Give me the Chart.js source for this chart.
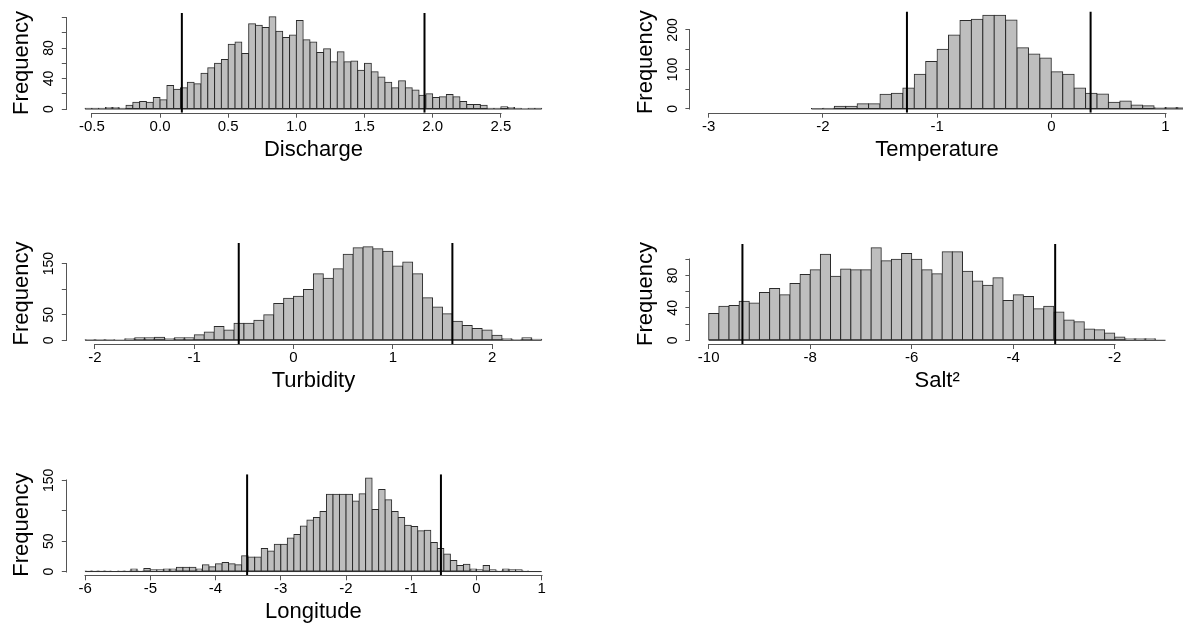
<!DOCTYPE html>
<html>
<head>
<meta charset="utf-8">
<title>Histograms</title>
<script src="https://cdn.jsdelivr.net/npm/chart.js@4.4.1/dist/chart.umd.min.js"></script>
<style>
  html, body { margin:0; padding:0; background:#fff; width:1183px; height:628px; overflow:hidden; position:relative; }
  canvas { position:absolute; display:block; }
</style>
</head>
<body>
<canvas id="discharge"></canvas>
<canvas id="temperature"></canvas>
<canvas id="turbidity"></canvas>
<canvas id="salt"></canvas>
<canvas id="longitude"></canvas>
<script>
// ---------------- data ----------------
const dischargeBinStart = -0.55;
const dischargeBinWidth = 0.05;
const dischargeCounts = [1,1,1,2,2,1,5,9,10,9,15,
  12,31,26,28,35,33,47,54,60,65,85,88,73,112,110,107,121,102,94,97,
  116,91,88,74,79,62,75,62,63,51,60,49,42,35,28,37,28,25,18,20,
  15,16,19,16,10,6,6,5,1,1,3,2,1,0,1,1];
const dischargeRange = [-0.55, 2.8];
const dischargeCutoffs = [0.16, 1.94];
const dischargeXTicks = [-0.5, 0, 0.5, 1, 1.5, 2, 2.5];
const dischargeXLabels = ['-0.5','0.0','0.5','1.0','1.5','2.0','2.5'];
const dischargeYTicks = [0, 20, 40, 60, 80, 100, 120];
const dischargeYLabels = ['0','','40','','80','',''];

const temperatureBinStart = -2.1;
const temperatureBinWidth = 0.1;
const temperatureCounts = [1,2,7,7,13,13,37,40,53,88,
  120,151,187,224,227,237,237,225,155,139,
  129,94,88,53,40,38,17,20,10,8,
  3,4,4];
const temperatureRange = [-3, 1];
const temperatureCutoffs = [-1.264, 0.344];
const temperatureXTicks = [-3, -2, -1, 0, 1];
const temperatureXLabels = ['-3','-2','-1','0','1'];
const temperatureYTicks = [0, 50, 100, 150, 200];
const temperatureYLabels = ['0','','100','','200'];

const turbidityBinStart = -2.1;
const turbidityBinWidth = 0.1;
const turbidityCounts = [1,1,1,0,3,5,5,6,3,5,5,11,16,27,20,33,33,39,50,72,82,
  86,99,130,121,140,168,181,183,179,174,145,153,130,83,65,52,37,29,23,20,10,3,1,5,2];
const turbidityRange = [-2.1, 2.5];
const turbidityCutoffs = [-0.552, 1.6];
const turbidityXTicks = [-2, -1, 0, 1, 2];
const turbidityXLabels = ['-2','-1','0','1','2'];
const turbidityYTicks = [0, 50, 100, 150];
const turbidityYLabels = ['0','50','','150'];

const saltBinStart = -10;
const saltBinWidth = 0.2;
const saltCounts = [33,42,43,48,46,59,64,56,70,81,
  87,106,79,88,87,87,114,98,100,107,
  100,87,82,109,109,85,73,68,77,49,
  56,54,39,42,35,25,23,14,13,9,
  4,2,2,2,0];
const saltRange = [-10, -1];
const saltCutoffs = [-9.335, -3.174];
const saltXTicks = [-10, -8, -6, -4, -2];
const saltXLabels = ['-10','-8','-6','-4','-2'];
const saltYTicks = [0, 20, 40, 60, 80, 100];
const saltYLabels = ['0','','40','','80',''];

const longitudeBinStart = -6;
const longitudeBinWidth = 0.1;
const longitudeCounts = [1,1,1,1,0,1,1,4,1,5,
  3,3,4,4,7,7,7,4,11,8,
  13,15,13,11,26,24,24,38,34,45,
  45,55,61,75,85,89,99,127,127,127,
  127,116,128,154,102,135,118,99,89,76,
  74,67,68,48,38,29,18,10,12,4,
  3,10,3,1,4,3,3,1,0,0];
const longitudeRange = [-6, 1];
const longitudeCutoffs = [-3.516, -0.545];
const longitudeXTicks = [-6, -5, -4, -3, -2, -1, 0, 1];
const longitudeXLabels = ['-6','-5','-4','-3','-2','-1','0','1'];
const longitudeYTicks = [0, 50, 100, 150];
const longitudeYLabels = ['0','50','','150'];

// ---------------- drawing ----------------
const FONT = "'Liberation Sans', Arial, sans-serif";
Chart.defaults.font.family = FONT;
Chart.defaults.color = '#000';
const AXIS = '#555';
const BAR_FILL = '#bebebe';
const BAR_EDGE = '#2b2b2b';
const CH = 180, AREA_H = 101.1, XAXIS_H = 50.2;
const Y_TICK_FONT = 14, X_TICK_FONT = 15, TITLE_FONT = 22;

const rAxisLines = {
  id: 'rAxisLines',
  afterDraw(chart) {
    const ctx = chart.ctx, a = chart.chartArea;
    const xs = chart.scales.x, ys = chart.scales.y;
    const xt = xs.ticks, yt = ys.ticks;
    ctx.save();
    ctx.strokeStyle = AXIS;
    ctx.lineWidth = 1;
    ctx.beginPath();
    const y = Math.round(a.bottom) + 0.5;
    ctx.moveTo(Math.round(xs.getPixelForValue(xt[0].value)) - 0.5, y);
    ctx.lineTo(Math.round(xs.getPixelForValue(xt[xt.length - 1].value)) + 0.5, y);
    const x = Math.round(a.left) - 0.5;
    ctx.moveTo(x, Math.round(ys.getPixelForValue(yt[0].value)) + 0.5);
    ctx.lineTo(x, Math.round(ys.getPixelForValue(yt[yt.length - 1].value)) - 0.5);
    ctx.stroke();
    ctx.restore();
  }
};

const measureCtx = document.createElement('canvas').getContext('2d');

function histogram(id, d, pos) {
  const canvas = document.getElementById(id);
  const W = pos.canvasWidth;
  canvas.width = W; canvas.height = CH;
  canvas.style.left = pos.canvasLeft + 'px';
  canvas.style.top = pos.canvasTop + 'px';
  canvas.style.width = W + 'px';
  canvas.style.height = CH + 'px';

  const padTop = pos.chartTop - pos.canvasTop;
  const yAxisW = pos.chartLeft - pos.canvasLeft;
  const padRight = pos.canvasLeft + W - pos.chartRight;
  const padBottom = CH - padTop - AREA_H - XAXIS_H;

  const n = d.counts.length;
  const binEnd = d.binStart + n * d.binWidth;
  const lo = d.range[0], hi = d.range[1];
  const ext = 0.04 * (hi - lo);
  const ymax = Math.max(...d.counts);
  const yMin = -0.04 * ymax, yMax = 1.04 * ymax;

  measureCtx.font = Y_TICK_FONT + 'px ' + FONT;
  const widest = Math.max(...d.yLabels.map(s => measureCtx.measureText(s).width));
  const yPad = Math.max(0, 12.5 - widest / 2);

  const datasets = [
    {
      type: 'bar',
      data: d.counts.map((c, i) => ({ x: d.binStart + (i + 0.5) * d.binWidth, y: c })),
      backgroundColor: BAR_FILL,
      borderColor: BAR_EDGE,
      borderWidth: 1,
      borderSkipped: false,
      inflateAmount: 0.5,
      barPercentage: 1,
      categoryPercentage: 1,
      order: 3,
      clip: 0
    },
    {
      type: 'line',
      data: [{ x: d.binStart, y: 0 }, { x: binEnd, y: 0 }],
      borderColor: BAR_EDGE,
      borderWidth: 1,
      pointRadius: 0,
      fill: false,
      order: 2,
      clip: 0
    }
  ];
  d.cutoffs.forEach(v => datasets.push({
    type: 'line',
    data: [{ x: v, y: yMin }, { x: v, y: yMax }],
    borderColor: '#000',
    borderWidth: 2,
    pointRadius: 0,
    fill: false,
    order: 1,
    clip: 0
  }));

  return new Chart(canvas, {
    type: 'bar',
    data: { datasets },
    plugins: [rAxisLines],
    options: {
      responsive: false,
      animation: false,
      events: [],
      layout: { padding: { left: 0, top: padTop, right: padRight, bottom: padBottom } },
      plugins: { legend: { display: false }, tooltip: { enabled: false } },
      scales: {
        x: {
          type: 'linear',
          min: lo - ext,
          max: hi + ext,
          offset: false,
          bounds: 'data',
          afterBuildTicks: s => { s.ticks = d.xTicks.map(v => ({ value: v })); },
          afterFit: s => { s.height = XAXIS_H; },
          ticks: {
            autoSkip: false, minRotation: 0, maxRotation: 0, padding: 0,
            font: { size: X_TICK_FONT }, color: '#000',
            callback: (v, i) => d.xLabels[i]
          },
          grid: { display: true, drawOnChartArea: false, drawTicks: true, tickLength: 5,
                  color: AXIS, tickColor: AXIS, tickWidth: 1, offset: false },
          border: { display: false },
          title: { display: true, text: d.xTitle, font: { size: TITLE_FONT }, color: '#000',
                   padding: { top: 0, bottom: 0 } }
        },
        y: {
          type: 'linear',
          min: yMin,
          max: yMax,
          bounds: 'data',
          afterBuildTicks: s => { s.ticks = d.yTicks.map(v => ({ value: v })); },
          afterFit: s => { s.width = yAxisW; },
          ticks: {
            autoSkip: false, minRotation: 90, maxRotation: 90, crossAlign: 'center',
            padding: yPad, font: { size: Y_TICK_FONT }, color: '#000',
            callback: (v, i) => d.yLabels[i]
          },
          grid: { display: true, drawOnChartArea: false, drawTicks: true, tickLength: 5,
                  color: AXIS, tickColor: AXIS, tickWidth: 1 },
          border: { display: false },
          title: { display: true, text: 'Frequency', font: { size: TITLE_FONT }, color: '#000',
                   padding: { top: (pos.chartLeft - 44.8) - pos.canvasLeft - 13.2, bottom: 0 } }
        }
      }
    }
  });
}

const LEFT = { canvasLeft: 0, canvasWidth: 580, chartLeft: 66.8, chartRight: 560 };
const RIGHT = { canvasLeft: 620, canvasWidth: 568, chartLeft: 690.4, chartRight: 1183.8 };
const ROWS = [ { canvasTop: 0, chartTop: 11.6 }, { canvasTop: 231, chartTop: 242.9 }, { canvasTop: 463, chartTop: 474.2 } ];

histogram('discharge', {
  binStart: dischargeBinStart, binWidth: dischargeBinWidth, counts: dischargeCounts,
  range: dischargeRange, cutoffs: dischargeCutoffs,
  xTicks: dischargeXTicks, xLabels: dischargeXLabels,
  yTicks: dischargeYTicks, yLabels: dischargeYLabels, xTitle: 'Discharge'
}, Object.assign({}, LEFT, ROWS[0]));

histogram('temperature', {
  binStart: temperatureBinStart, binWidth: temperatureBinWidth, counts: temperatureCounts,
  range: temperatureRange, cutoffs: temperatureCutoffs,
  xTicks: temperatureXTicks, xLabels: temperatureXLabels,
  yTicks: temperatureYTicks, yLabels: temperatureYLabels, xTitle: 'Temperature'
}, Object.assign({}, RIGHT, ROWS[0]));

histogram('turbidity', {
  binStart: turbidityBinStart, binWidth: turbidityBinWidth, counts: turbidityCounts,
  range: turbidityRange, cutoffs: turbidityCutoffs,
  xTicks: turbidityXTicks, xLabels: turbidityXLabels,
  yTicks: turbidityYTicks, yLabels: turbidityYLabels, xTitle: 'Turbidity'
}, Object.assign({}, LEFT, ROWS[1]));

histogram('salt', {
  binStart: saltBinStart, binWidth: saltBinWidth, counts: saltCounts,
  range: saltRange, cutoffs: saltCutoffs,
  xTicks: saltXTicks, xLabels: saltXLabels,
  yTicks: saltYTicks, yLabels: saltYLabels, xTitle: 'Salt\u00B2'
}, Object.assign({}, RIGHT, ROWS[1]));

histogram('longitude', {
  binStart: longitudeBinStart, binWidth: longitudeBinWidth, counts: longitudeCounts,
  range: longitudeRange, cutoffs: longitudeCutoffs,
  xTicks: longitudeXTicks, xLabels: longitudeXLabels,
  yTicks: longitudeYTicks, yLabels: longitudeYLabels, xTitle: 'Longitude'
}, Object.assign({}, LEFT, ROWS[2]));
</script>
</body>
</html>
